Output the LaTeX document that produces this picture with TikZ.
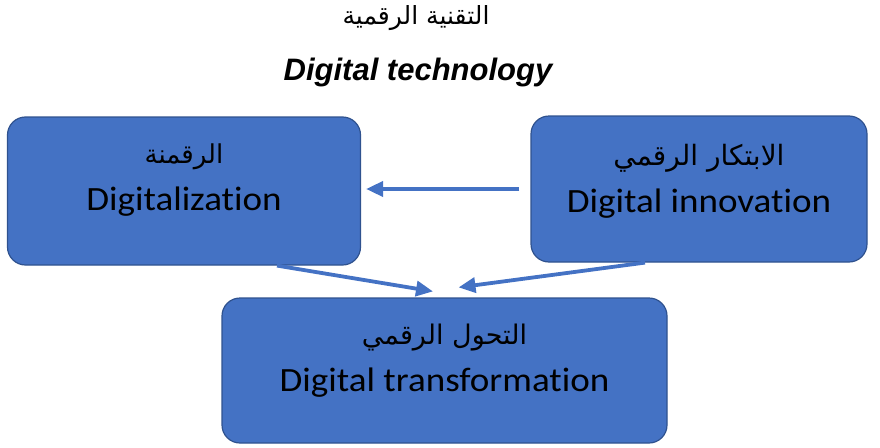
\documentclass[tikz,border=0pt]{standalone}
\usepackage{fontspec}
\setmainfont{Carlito}[FakeStretch=1.09, Ligatures=NoCommon]
\newfontfamily\arabicfont[Script=Arabic]{DejaVu Sans}
\newfontfamily\headfont{Liberation Sans}
\TeXXeTstate=1
\usetikzlibrary{arrows.meta}
\definecolor{boxblue}{HTML}{4472C4}
\definecolor{boxedge}{HTML}{2F528F}

\begin{document}
\begin{tikzpicture}[x=1pt, y=-1pt,
every node/.style = {inner sep=0pt},
blockbox/.style = {shape=rectangle, rounded corners=18pt,
	fill=boxblue, draw=boxedge, line width=1.2pt},
blocktext/.style = {align=center, font=\fontsize{34}{47}\selectfont},
flow/.style = {draw=boxblue, line width=3.8pt,
	-{Triangle[length=17pt, width=15pt]}}]
\useasboundingbox (0,0) rectangle (880,447);
% titles
\node (titlear) at (416,18) {\arabicfont\fontsize{25}{28}\selectfont\beginR التقنية الرقمية\endR};
\node (titleen) at (418,72) {\headfont\bfseries\itshape\fontsize{31}{36}\selectfont Digital technology};
% blocks
\node[blockbox, minimum width=353pt, minimum height=148pt] (digz) at (184,191) {};
\node[blockbox, minimum width=336pt, minimum height=146pt] (innov) at (699,189) {};
\node[blockbox, minimum width=445pt, minimum height=145pt] (trans) at (444.5,370.5) {};
\node[blocktext, yshift=11pt] (digztxt) at (digz)
	{{\arabicfont\fontsize{26}{30}\selectfont\beginR الرقمنة\endR}\\Digitalization};
\node[blocktext, yshift=8pt] (innovtxt) at (innov)
	{{\arabicfont\fontsize{28}{30}\selectfont\beginR الابتكار الرقمي\endR}\\Digital innovation};
\node[blocktext, yshift=10pt] (transtxt) at (trans)
	{{\arabicfont\fontsize{27}{30}\selectfont\beginR التحول الرقمي\endR}\\Digital transformation};
% arrows
\draw[flow] ([xshift=-11pt]innov.west) -- ([xshift=5pt]innov.west -| digz.east);
\draw[flow] ([xshift=93pt]digz.south) -- ([xshift=-11.5pt, yshift=6pt]trans.north);
\draw[flow] ([xshift=-54pt]innov.south) -- ([xshift=14pt, yshift=10pt]trans.north);
\end{tikzpicture}
\end{document}
